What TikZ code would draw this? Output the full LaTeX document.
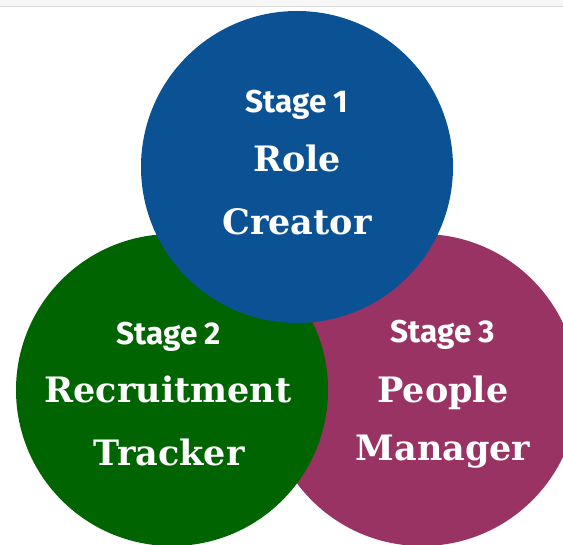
\documentclass[tikz,border=0pt]{standalone}
\usepackage{fontspec}
\newfontfamily\slabfont{DejaVu Serif}
\newfontfamily\stagefont{Fira Sans}
\definecolor{cblue}{HTML}{0A5294}
\definecolor{cgreen}{HTML}{006400}
\definecolor{cpurple}{HTML}{993363}
\definecolor{bandgray}{HTML}{F7F7F7}
\definecolor{linegray}{HTML}{DADADA}
\begin{document}
\begin{tikzpicture}[x=1pt,y=-1pt,
  disc/.style={circle, minimum size=312pt, inner sep=0pt, draw=none},
  stagetxt/.style={text=white, font=\stagefont\bfseries\fontsize{31.5}{31.5}\selectfont, anchor=base, inner sep=0pt},
  bigtxt/.style={text=white, font=\slabfont\bfseries\fontsize{35}{35}\selectfont, anchor=base, inner sep=0pt}]
\useasboundingbox (0,0) rectangle (563,545);
\begin{scope}
  \clip (0,0) rectangle (563,545);
  \fill[bandgray] (0,0) rectangle (563,6);
  \draw[linegray, line width=1.5pt] (0,6.5) -- (563,6.5);
  \node[disc, fill=cpurple] (c3) at (422,390) {};
  \node[disc, fill=cgreen] (c2) at (172,390) {};
  \node[disc, fill=cblue] (c1) at (297,167) {};
\end{scope}
\node[stagetxt] (s1) at (297,113) {Stage 1};
\node[bigtxt] (r1) at (297,172) {Role};
\node[bigtxt] (r2) at (297,235) {Creator};
\node[stagetxt] (s2) at (169,345) {Stage 2};
\node[bigtxt] (g1) at (168,403) {Recruitment};
\node[bigtxt] (g2) at (169,466) {Tracker};
\node[stagetxt] (s3) at (443,343) {Stage 3};
\node[bigtxt] (p1) at (443,403) {People};
\node[bigtxt] (p2) at (443,461) {Manager};
\end{tikzpicture}
\end{document}
